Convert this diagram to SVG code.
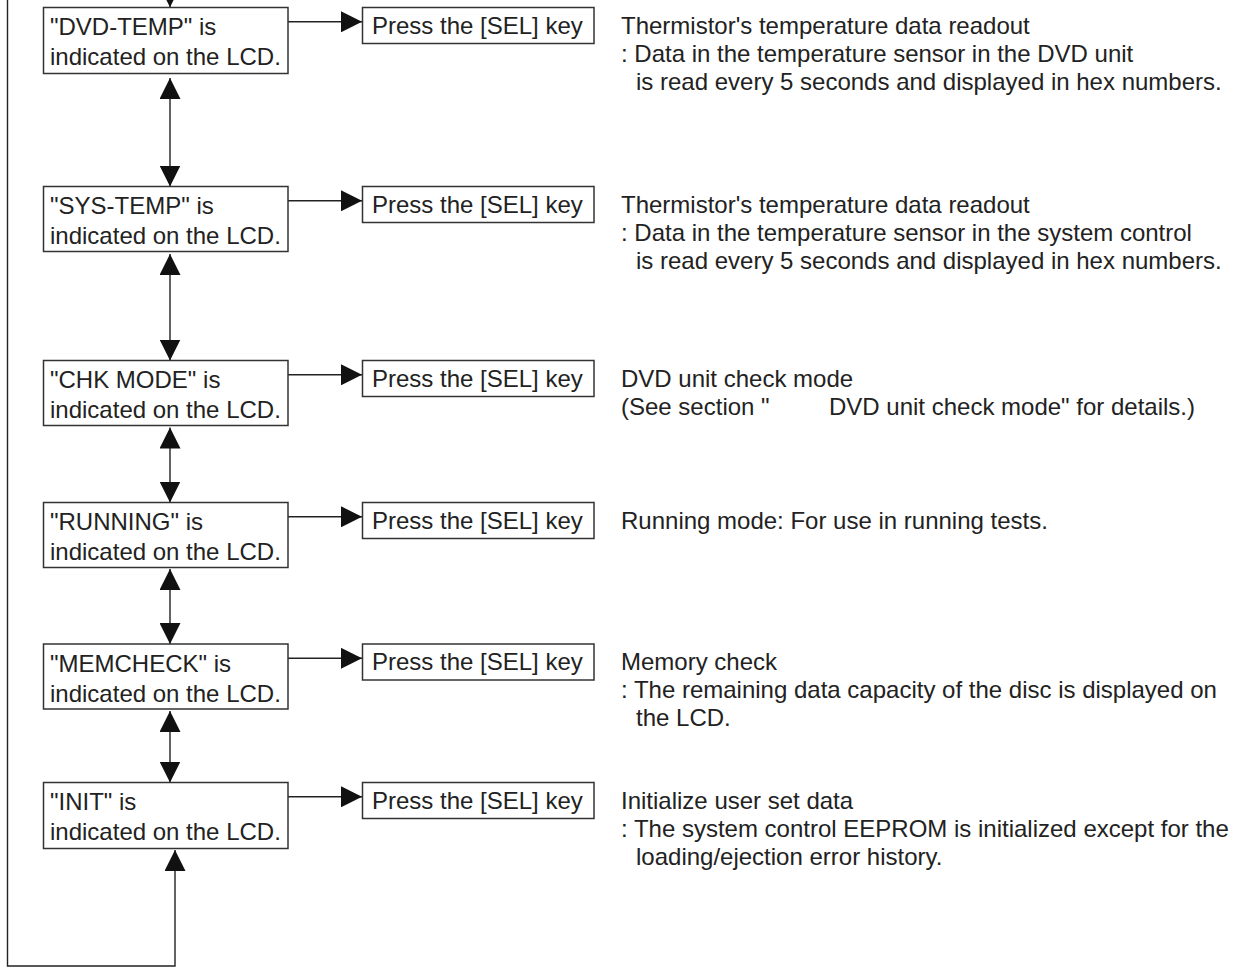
<svg xmlns="http://www.w3.org/2000/svg" width="1245" height="967" viewBox="0 0 1245 967">
<style>
.box{fill:#fff;stroke:#333;stroke-width:1.5}
.t{font-family:"Liberation Sans",Arial,sans-serif;font-size:24px;fill:#222}
.ln{fill:none;stroke:#222;stroke-width:1.4}
</style>
<defs>
<marker id="ah" markerUnits="userSpaceOnUse" markerWidth="21" markerHeight="21" viewBox="0 0 20 20" refX="20" refY="10" orient="auto-start-reverse">
<path d="M0,0 L20,10 L0,20 z" fill="#111"/>
</marker>
</defs>
<rect width="1245" height="967" fill="#fff"/>
<g id="connectors">
<path class="ln" d="M7.5,-30 V966 H175 V850" marker-end="url(#ah)"/>
<path class="ln" d="M7.5,-30 H170 V7.3" marker-end="url(#ah)"/>
<path class="ln" d="M170,78 V186.5" marker-start="url(#ah)" marker-end="url(#ah)"/>
<path class="ln" d="M170,254 V360.5" marker-start="url(#ah)" marker-end="url(#ah)"/>
<path class="ln" d="M170,427.5 V502.5" marker-start="url(#ah)" marker-end="url(#ah)"/>
<path class="ln" d="M170,569 V644" marker-start="url(#ah)" marker-end="url(#ah)"/>
<path class="ln" d="M170,711 V782.5" marker-start="url(#ah)" marker-end="url(#ah)"/>
<path class="ln" d="M288,21.8 H362" marker-end="url(#ah)"/>
<path class="ln" d="M288,200.8 H362" marker-end="url(#ah)"/>
<path class="ln" d="M288,374.8 H362" marker-end="url(#ah)"/>
<path class="ln" d="M288,516.8 H362" marker-end="url(#ah)"/>
<path class="ln" d="M288,658.3 H362" marker-end="url(#ah)"/>
<path class="ln" d="M288,796.8 H362" marker-end="url(#ah)"/>
</g>
<g id="n1">
<rect class="box" x="43.5" y="7.5" width="244.5" height="66"/>
<text class="t" x="50" y="35">"DVD-TEMP" is</text>
<text class="t" x="50" y="65">indicated on the LCD.</text>
</g>
<g id="p1">
<rect class="box" x="362.5" y="7.5" width="231.5" height="36"/>
<text class="t" x="372" y="33.5">Press the [SEL] key</text>
</g>
<g id="d1">
<text class="t" x="621" y="33.5">Thermistor's temperature data readout</text>
<text class="t" x="621" y="61.5">: Data in the temperature sensor in the DVD unit</text>
<text class="t" x="636" y="89.5">is read every 5 seconds and displayed in hex numbers.</text>
</g>
<g id="n2">
<rect class="box" x="43.5" y="186.5" width="244.5" height="65"/>
<text class="t" x="50" y="214">"SYS-TEMP" is</text>
<text class="t" x="50" y="244">indicated on the LCD.</text>
</g>
<g id="p2">
<rect class="box" x="362.5" y="186.5" width="231.5" height="36"/>
<text class="t" x="372" y="212.5">Press the [SEL] key</text>
</g>
<g id="d2">
<text class="t" x="621" y="212.5">Thermistor's temperature data readout</text>
<text class="t" x="621" y="240.5">: Data in the temperature sensor in the system control</text>
<text class="t" x="636" y="268.5">is read every 5 seconds and displayed in hex numbers.</text>
</g>
<g id="n3">
<rect class="box" x="43.5" y="360.5" width="244.5" height="65"/>
<text class="t" x="50" y="388">"CHK MODE" is</text>
<text class="t" x="50" y="418">indicated on the LCD.</text>
</g>
<g id="p3">
<rect class="box" x="362.5" y="360.5" width="231.5" height="36"/>
<text class="t" x="372" y="386.5">Press the [SEL] key</text>
</g>
<g id="d3">
<text class="t" x="621" y="386.5">DVD unit check mode</text>
<text class="t" x="621" y="414.5">(See section "</text>
<text class="t" x="829" y="414.5">DVD unit check mode" for details.)</text>
</g>
<g id="n4">
<rect class="box" x="43.5" y="502.5" width="244.5" height="65"/>
<text class="t" x="50" y="530">"RUNNING" is</text>
<text class="t" x="50" y="560">indicated on the LCD.</text>
</g>
<g id="p4">
<rect class="box" x="362.5" y="502.5" width="231.5" height="36"/>
<text class="t" x="372" y="528.5">Press the [SEL] key</text>
</g>
<g id="d4">
<text class="t" x="621" y="528.5">Running mode: For use in running tests.</text>
</g>
<g id="n5">
<rect class="box" x="43.5" y="644" width="244.5" height="65"/>
<text class="t" x="50" y="671.5">"MEMCHECK" is</text>
<text class="t" x="50" y="701.5">indicated on the LCD.</text>
</g>
<g id="p5">
<rect class="box" x="362.5" y="644" width="231.5" height="36"/>
<text class="t" x="372" y="670">Press the [SEL] key</text>
</g>
<g id="d5">
<text class="t" x="621" y="670">Memory check</text>
<text class="t" x="621" y="698">: The remaining data capacity of the disc is displayed on</text>
<text class="t" x="636" y="726">the LCD.</text>
</g>
<g id="n6">
<rect class="box" x="43.5" y="782.5" width="244.5" height="66"/>
<text class="t" x="50" y="810">"INIT" is</text>
<text class="t" x="50" y="840">indicated on the LCD.</text>
</g>
<g id="p6">
<rect class="box" x="362.5" y="782.5" width="231.5" height="36"/>
<text class="t" x="372" y="808.5">Press the [SEL] key</text>
</g>
<g id="d6">
<text class="t" x="621" y="808.5">Initialize user set data</text>
<text class="t" x="621" y="836.5">: The system control EEPROM is initialized except for the</text>
<text class="t" x="636" y="864.5">loading/ejection error history.</text>
</g>
</svg>
